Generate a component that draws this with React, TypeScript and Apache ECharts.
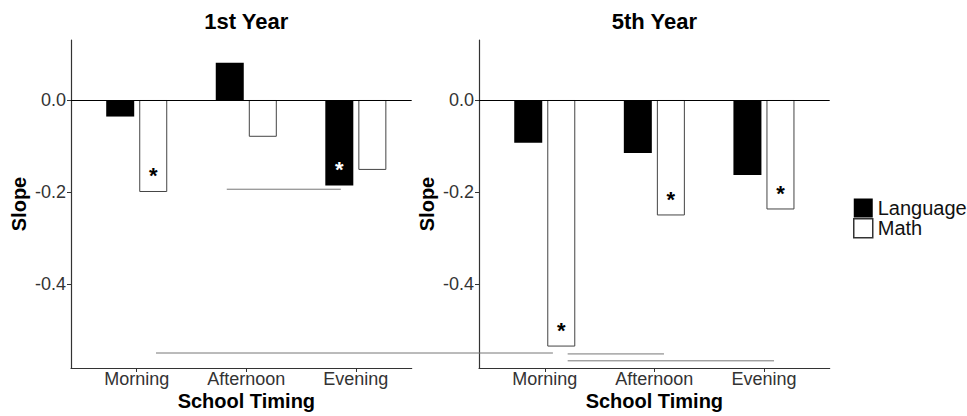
import React, { useEffect, useRef } from 'react';
import * as echarts from 'echarts';

const categories = ['Morning', 'Afternoon', 'Evening'];
const categoryPositions = [1, 2, 3];
const seriesNames = ['Language', 'Math'];
const panelTitles = ['1st Year', '5th Year'];

const year1Language = [-0.036, 0.081, -0.186];
const year1Math = [-0.2, -0.08, -0.152];
const year5Language = [-0.093, -0.115, -0.163];
const year5Math = [-0.536, -0.251, -0.238];

const year1LanguageSig = [false, false, true];
const year1MathSig = [true, false, false];
const year5LanguageSig = [false, false, false];
const year5MathSig = [true, true, true];

const yTickValues = [-0.4, -0.2, 0];

// stray horizontal segments in the source image: [xStart, xEnd, y] in data units of each panel
const year1Segments = [
  [1.822, 2.863, -0.194],
  [1.176, 4.799, -0.55],
];
const year5Segments = [
  [1.209, 2.088, -0.552],
  [1.209, 3.092, -0.567],
];

const Y_MIN = -0.5826;
const Y_MAX = 0.1304;
const X_MIN = 0.4;
const X_MAX_LEFT = 3.51;
const X_MAX_RIGHT = 3.6;

const FONT = 'Liberation Sans, Arial, Helvetica, sans-serif';
const AXIS_COLOR = '#333';

function makeXAxis(index: number, max: number) {
  return {
    type: 'value',
    gridIndex: index,
    min: X_MIN,
    max,
    name: 'School Timing',
    nameLocation: 'middle',
    nameGap: 23,
    nameMoveOverlap: false,
    nameTextStyle: {
      fontFamily: FONT,
      fontSize: 20,
      fontWeight: 'bold',
      color: '#000',
      padding: index === 0 ? [0, 0, 0, 10] : 0,
    },
    axisLine: { show: true, onZero: false, lineStyle: { color: AXIS_COLOR, width: 1.2 } },
    axisTick: { show: true, length: 4, customValues: categoryPositions, lineStyle: { color: AXIS_COLOR } },
    axisLabel: {
      customValues: categoryPositions,
      formatter: (v: number) => categories[Math.round(v) - 1] ?? '',
      fontFamily: FONT,
      fontSize: 18,
      color: '#333',
      margin: 2,
    },
    splitLine: { show: false },
  };
}

function makeYAxis(index: number) {
  return {
    type: 'value',
    gridIndex: index,
    min: Y_MIN,
    max: Y_MAX,
    name: 'Slope',
    nameLocation: 'middle',
    nameGap: 42,
    nameRotate: 90,
    nameMoveOverlap: false,
    nameTextStyle: { fontFamily: FONT, fontSize: 20, fontWeight: 'bold', color: '#000' },
    axisLine: { show: true, lineStyle: { color: AXIS_COLOR, width: 1.2 } },
    axisTick: { show: true, length: 4, customValues: yTickValues, lineStyle: { color: AXIS_COLOR } },
    axisLabel: {
      customValues: yTickValues,
      formatter: (v: number) => v.toFixed(1),
      fontFamily: FONT,
      fontSize: 18,
      color: '#333',
      margin: 5,
    },
    splitLine: { show: false },
  };
}

function makeBars(index: number, name: string, values: number[], sig: boolean[], isMath: boolean, withZero: boolean) {
  return {
    type: 'bar',
    name,
    xAxisIndex: index,
    yAxisIndex: index,
    barWidth: 28,
    barGap: '18%',
    itemStyle: isMath
      ? { color: '#fff', borderColor: '#444', borderWidth: 1 }
      : { color: '#000', borderColor: '#000', borderWidth: 0 },
    label: {
      show: false,
      formatter: '*',
      position: 'insideBottom',
      distance: 5,
      fontFamily: FONT,
      fontSize: 22,
      fontWeight: 'bold',
      color: isMath ? '#000' : '#fff',
    },
    data: categoryPositions.map((p, k) => ({
      value: [p, values[k]],
      label: { show: sig[k] },
    })),
    markLine: withZero
      ? {
          silent: true,
          symbol: 'none',
          label: { show: false },
          lineStyle: { color: '#000', width: 1, type: 'solid' },
          data: [{ yAxis: 0 }],
        }
      : undefined,
    z: 3,
  };
}

export default function App() {
  const ref = useRef<HTMLDivElement>(null);

  useEffect(() => {
    if (!ref.current) return;
    const chart = echarts.init(ref.current, undefined, { renderer: 'svg' });
    const option: any = {
      animation: false,
      backgroundColor: '#fff',
      grid: [
        { left: 71, top: 40, width: 340.7, height: 328 },
        { left: 479, top: 40, width: 350.7, height: 328 },
      ],
      xAxis: [makeXAxis(0, X_MAX_LEFT), makeXAxis(1, X_MAX_RIGHT)],
      yAxis: [makeYAxis(0), makeYAxis(1)],
      legend: {
        data: [
          { name: seriesNames[0], itemStyle: { color: '#000', borderWidth: 0 } },
          { name: seriesNames[1], itemStyle: { color: '#fff', borderColor: '#333', borderWidth: 1.5 } },
        ],
        orient: 'vertical',
        left: 848,
        top: 193,
        itemWidth: 19,
        itemHeight: 19,
        itemGap: 0,
        icon: 'rect',
        selectedMode: false,
        textStyle: { fontFamily: FONT, fontSize: 20, color: '#111', lineHeight: 19 },
      },
      series: [
        makeBars(0, seriesNames[0], year1Language, year1LanguageSig, false, true),
        makeBars(0, seriesNames[1], year1Math, year1MathSig, true, false),
        makeBars(1, seriesNames[0], year5Language, year5LanguageSig, false, true),
        makeBars(1, seriesNames[1], year5Math, year5MathSig, true, false),
      ],
    };
    chart.setOption(option);

    const toPx = (i: number, x: number, y: number) =>
      chart.convertToPixel({ xAxisIndex: i, yAxisIndex: i } as any, [x, y]) as number[];

    const segmentGraphics: any[] = [];
    [year1Segments, year5Segments].forEach((segs, i) => {
      segs.forEach((s) => {
        const a = toPx(i, s[0], s[2]);
        const b = toPx(i, s[1], s[2]);
        segmentGraphics.push({
          type: 'line',
          silent: true,
          z: 1,
          shape: { x1: a[0], y1: a[1], x2: b[0], y2: b[1] },
          style: { stroke: '#777', lineWidth: 1 },
        });
      });
    });

    const titleX = [0, 1].map((i) => chart.convertToPixel({ xAxisIndex: i } as any, 2) as number);
    const titleGraphics = panelTitles.map((t, i) => ({
      type: 'text',
      x: titleX[i],
      y: 21,
      style: {
        text: t,
        align: 'center',
        verticalAlign: 'middle',
        fontFamily: FONT,
        fontSize: 22,
        fontWeight: 'bold',
        fill: '#000',
      },
    }));

    chart.setOption({ graphic: [...segmentGraphics, ...titleGraphics] });

    return () => chart.dispose();
  }, []);

  return (
    <div
      ref={ref}
      style={{ position: 'fixed', left: 0, top: 0, width: 967, height: 416, background: '#fff' }}
    />
  );
}
